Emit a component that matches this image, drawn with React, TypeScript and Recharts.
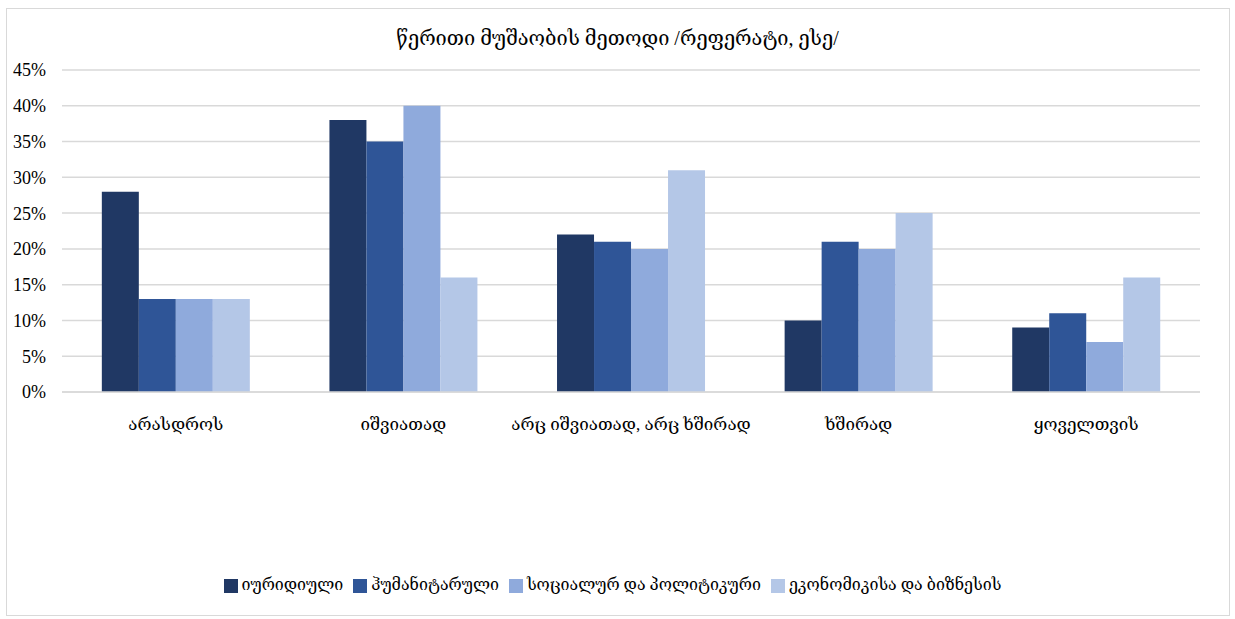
import { BarChart, Bar, XAxis, YAxis, CartesianGrid, Legend } from 'recharts'

const categories = ['არასდროს', 'იშვიათად', 'არც იშვიათად, არც ხშირად', 'ხშირად', 'ყოველთვის']
const legalValues = [0.28, 0.38, 0.22, 0.1, 0.09]
const humanitiesValues = [0.13, 0.35, 0.21, 0.21, 0.11]
const socialValues = [0.13, 0.4, 0.2, 0.2, 0.07]
const businessValues = [0.13, 0.16, 0.31, 0.25, 0.16]
const yTicks = [0, 0.05, 0.1, 0.15, 0.2, 0.25, 0.3, 0.35, 0.4, 0.45]

const seriesNames = ['იურიდიული', 'ჰუმანიტარული', 'სოციალურ და პოლიტიკური', 'ეკონომიკისა და ბიზნესის']
const colors = ['#203864', '#2F5597', '#8FAADC', '#B4C7E7']

const data = categories.map((name, i) => ({
  name,
  s0: legalValues[i],
  s1: humanitiesValues[i],
  s2: socialValues[i],
  s3: businessValues[i],
}))

const font = "'Liberation Serif', 'DejaVu Serif', serif"

export default function App() {
  return (
    <div style={{ position: 'absolute', left: 0, top: 0, width: 1235, height: 619, background: '#fff', fontFamily: font }}>
      <div
        style={{
          position: 'absolute',
          left: 6,
          top: 8,
          width: 1222,
          height: 606,
          border: '1px solid #d9d9d9',
        }}
      />
      <div
        style={{
          position: 'absolute',
          top: 26,
          left: 0,
          width: 1235,
          textAlign: 'center',
          fontSize: 20,
          color: '#000',
        }}
      >
        წერითი მუშაობის მეთოდი /რეფერატი, ესე/
      </div>
      <BarChart
        width={1235}
        height={619}
        data={data}
        margin={{ top: 70, right: 35, left: 6, bottom: 178 }}
        barCategoryGap="17.5%"
        barGap={0}
      >
        <CartesianGrid vertical={false} stroke="#d9d9d9" strokeWidth={1.5} />
        <XAxis
          dataKey="name"
          axisLine={{ stroke: '#d9d9d9', strokeWidth: 1.5 }}
          tickLine={false}
          tickMargin={20}
          height={30}
          interval={0}
          tick={{ fill: '#000', fontSize: 17, fontFamily: font }}
        />
        <YAxis
          width={56}
          domain={[0, 0.45]}
          ticks={yTicks}
          axisLine={false}
          tickLine={false}
          tickMargin={10}
          tickFormatter={(v: number) => `${Math.round(v * 100)}%`}
          tick={{ fill: '#000', fontSize: 18, fontFamily: font }}
        />
        <Legend
          verticalAlign="bottom"
          iconType="square"
          iconSize={14}
          itemSorter="dataKey"
          wrapperStyle={{ top: 575, left: 0, width: 1235, fontSize: 16, fontFamily: font, color: '#000' }}
          formatter={(value: string) => <span style={{ color: '#000' }}>{value}</span>}
        />
        {seriesNames.map((n, i) => (
          <Bar key={n} dataKey={`s${i}`} name={n} fill={colors[i]} isAnimationActive={false} />
        ))}
      </BarChart>
    </div>
  )
}
